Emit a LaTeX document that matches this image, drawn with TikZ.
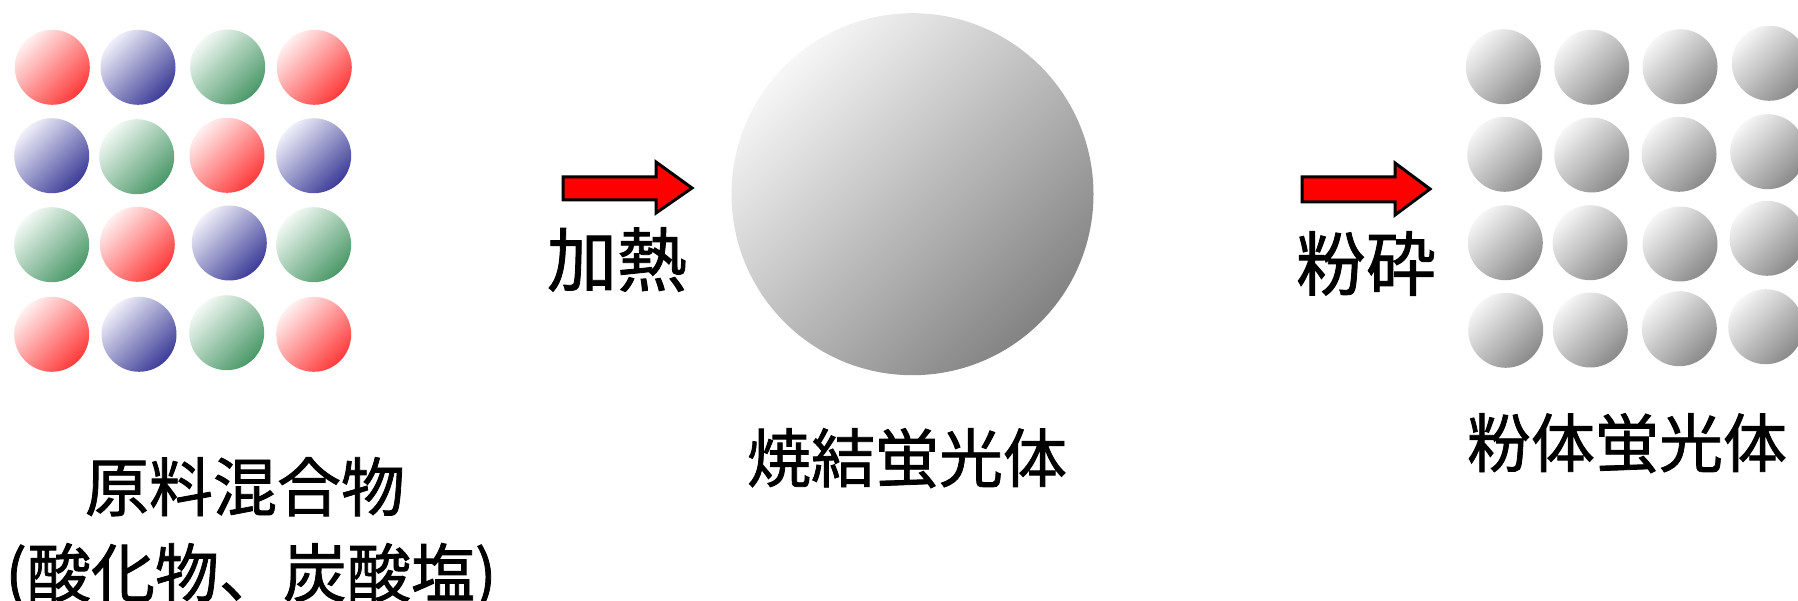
\documentclass[tikz,border=0pt]{standalone}
\usepackage{fontspec}
\newfontfamily\jp[FakeBold=1.2]{Noto Sans CJK JP}
\definecolor{rlight}{HTML}{FFF0F0}
\definecolor{rdark}{HTML}{FF3A3A}
\definecolor{blight}{HTML}{F0F0FA}
\definecolor{bdark}{HTML}{3C3C98}
\definecolor{glight}{HTML}{F2F9F4}
\definecolor{gdark}{HTML}{4A9868}
\definecolor{klight}{HTML}{F6F6F6}
\definecolor{kdark}{HTML}{8A8A8A}
\definecolor{arrowred}{HTML}{FF0000}
\tikzset{
  ball/.style={circle, inner sep=0pt, minimum size=37.5pt},
  rball/.style={ball, top color=rlight, bottom color=rdark, shading angle=45},
  bball/.style={ball, top color=blight, bottom color=bdark, shading angle=45},
  gball/.style={ball, top color=glight, bottom color=gdark, shading angle=45},
  kball/.style={ball, top color=klight, bottom color=kdark, shading angle=45},
  bigball/.style={circle, inner sep=0pt, minimum size=181pt, top color=klight, bottom color=kdark!95!black, shading angle=45},
  fatarrow/.style={draw=black, fill=arrowred, line width=1.5pt, miter limit=10},
  lbl/.style={inner sep=0pt, anchor=base, font=\jp\fontsize{32pt}{40pt}\selectfont},
  biglbl/.style={inner sep=0pt, anchor=base, font=\jp\fontsize{35pt}{42pt}\selectfont}
}
\begin{document}
\begin{tikzpicture}[x=0.5pt, y=0.5pt]
\useasboundingbox (0,0) rectangle (1798,600);
\clip (0,0) rectangle (1798,600);
% left grid (raw materials)
\node[rball] (l11) at (52.3,532.7) {};
\node[bball] (l12) at (138,532.7) {};
\node[gball] (l13) at (227.7,533) {};
\node[rball] (l14) at (314.3,532.7) {};
\node[bball] (l21) at (51.7,444.3) {};
\node[gball] (l22) at (136.7,443.3) {};
\node[rball] (l23) at (227,444.7) {};
\node[bball] (l24) at (313.7,444.3) {};
\node[gball] (l31) at (51.7,355.3) {};
\node[rball] (l32) at (137.3,355.7) {};
\node[bball] (l33) at (229.3,357) {};
\node[gball] (l34) at (313.7,355.3) {};
\node[rball] (l41) at (51.7,265.7) {};
\node[bball] (l42) at (139,265.7) {};
\node[gball] (l43) at (226.7,267.3) {};
\node[rball] (l44) at (313.7,265.7) {};
% big sintered sphere
\node[bigball] (big) at (912.5,405.8) {};
% right grid (powder)
\node[kball] (r11) at (1503.3,533.3) {};
\node[kball] (r12) at (1591.7,532.7) {};
\node[kball] (r13) at (1680,533.3) {};
\node[kball] (r14) at (1769.3,536.7) {};
\node[kball] (r21) at (1504.7,445.7) {};
\node[kball] (r22) at (1591.7,445) {};
\node[kball] (r23) at (1679,445.7) {};
\node[kball] (r24) at (1767.7,448.3) {};
\node[kball] (r31) at (1505.3,357.3) {};
\node[kball] (r32) at (1590,357.3) {};
\node[kball] (r33) at (1680,356) {};
\node[kball] (r34) at (1767,361.7) {};
\node[kball] (r41) at (1505.7,269.7) {};
\node[kball] (r42) at (1590.3,270) {};
\node[kball] (r43) at (1679.3,271.3) {};
\node[kball] (r44) at (1765.7,273.3) {};
% arrows
\draw[fatarrow] (563,423) -- (656,423) -- (656,438) -- (692,412) -- (656,387) -- (656,400) -- (563,400) -- cycle;
\draw[fatarrow] (1302,423) -- (1395,423) -- (1395,437) -- (1430,411) -- (1395,385) -- (1395,398) -- (1302,398) -- cycle;
% labels
\node[biglbl] (heat) at (617,314) {加熱};
\node[biglbl] (grind) at (1366,310) {粉砕};
\node[lbl] (mix1) at (245,89) {原料混合物};
\node[lbl] (mix2) at (251,3) {(酸化物、炭酸塩)};
\node[lbl] (sintered) at (907,118) {焼結蛍光体};
\node[lbl] (powder) at (1627,133) {粉体蛍光体};
\end{tikzpicture}
\end{document}
